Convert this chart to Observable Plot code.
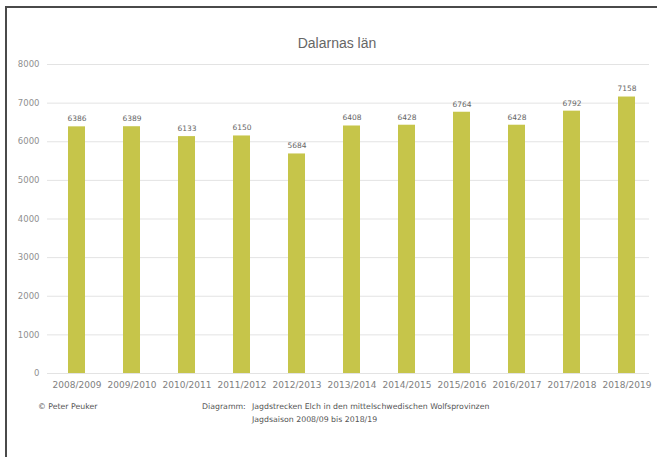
<!DOCTYPE html>
<html>
<head>
<meta charset="utf-8">
<script src="https://cdn.jsdelivr.net/npm/d3@7"></script>
<script src="https://cdn.jsdelivr.net/npm/@observablehq/plot@0.6"></script>
<style>
  body { margin: 0; background: #fff; }
  #wrap { position: relative; width: 657px; height: 457px; overflow: hidden; font-family: "DejaVu Sans", sans-serif; background: #fff; }
  #chart { position: absolute; left: 0; top: 0; }
  .frame { position: absolute; left: 5px; top: 6px; right: -10px; bottom: -10px; border-left: 2px solid #4a4a4a; border-top: 2px solid #4a4a4a; pointer-events: none; }
  .title { position: absolute; left: 337px; top: 35px; transform: translateX(-50%); font-family: "Liberation Sans", sans-serif; font-size: 14px; color: #666; white-space: nowrap; }
  .foot { position: absolute; font-size: 7.8px; color: #555; white-space: nowrap; line-height: 1; }
</style>
</head>
<body>
<div id="wrap">
  <div id="chart"></div>
  <div class="frame"></div>
  <div class="title" id="title"></div>
  <div class="foot" id="copy" style="left:38px; top:403px;"></div>
  <div class="foot" id="diag" style="left:202px; top:403px;"></div>
  <div class="foot" id="line1" style="left:252px; top:403px;"></div>
  <div class="foot" id="line2" style="left:252px; top:416px;"></div>
</div>
<script>
const titleText = "Dalarnas län";
const seasons = ["2008/2009","2009/2010","2010/2011","2011/2012","2012/2013","2013/2014","2014/2015","2015/2016","2016/2017","2017/2018","2018/2019"];
const values = [6386, 6389, 6133, 6150, 5684, 6408, 6428, 6764, 6428, 6792, 7158];
const yTicks = [0, 1000, 2000, 3000, 4000, 5000, 6000, 7000, 8000];
const copyright = "© Peter Peuker";
const diagLabel = "Diagramm:";
const captionLine1 = "Jagdstrecken Elch in den mittelschwedischen Wolfsprovinzen";
const captionLine2 = "Jagdsaison 2008/09 bis 2018/19";

const data = seasons.map((s, i) => ({season: s, value: values[i]}));

document.getElementById("title").textContent = titleText;
document.getElementById("copy").textContent = copyright;
document.getElementById("diag").textContent = diagLabel;
document.getElementById("line1").textContent = captionLine1;
document.getElementById("line2").textContent = captionLine2;

const plot = Plot.plot({
  width: 657,
  height: 400,
  marginTop: 64,
  marginBottom: 27,
  marginLeft: 47,
  marginRight: 8,
  style: { fontFamily: "DejaVu Sans, sans-serif", fontSize: "9px", background: "transparent", color: "#8a8a8a" },
  x: { domain: seasons, paddingInner: 0.693, paddingOuter: 0.29, align: 0.59, label: null },
  y: { domain: [0, 8000], label: null },
  marks: [
    Plot.gridY(yTicks, { stroke: "#e3e3e3", strokeOpacity: 1, strokeWidth: 1 }),
    Plot.axisY(yTicks, { tickSize: 0, tickPadding: 8, fill: "#909090", fontSize: 8.5, label: null, tickFormat: d => String(d) }),
    Plot.axisX({ tickSize: 0, tickPadding: 8, fill: "#808080", label: null }),
    Plot.barY(data, { x: "season", y: "value", fill: "#c6c54a" }),
    Plot.text(data, { x: "season", y: "value", text: d => String(d.value), dy: -8, fill: "#666", fontSize: 7.5 })
  ]
});
document.getElementById("chart").appendChild(plot);
</script>
</body>
</html>
